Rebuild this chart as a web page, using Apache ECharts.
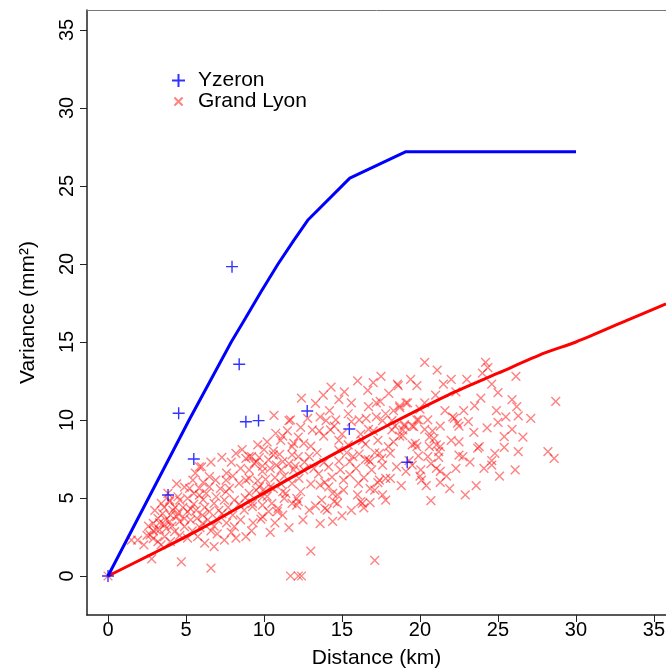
<!DOCTYPE html>
<html>
<head>
<meta charset="utf-8">
<title>Variance vs distance</title>
<script src="https://cdn.jsdelivr.net/npm/echarts@6/dist/echarts.min.js"></script>
<style>
  html, body { margin: 0; padding: 0; background: #fff; }
  #chart { width: 666px; height: 669px; }
</style>
</head>
<body>
<div id="chart"></div>
<script>
// tick labels
const xTicks = [0, 5, 10, 15, 20, 25, 30, 35];
const yTicks = [0, 5, 10, 15, 20, 25, 30, 35];

// Yzeron : points (+) and fitted curve
const yzeronPoints = [
  [0, 0], [3.85, 5.19], [4.53, 10.43], [5.5, 7.5], [7.95, 19.83], [8.41, 13.57],
  [8.84, 9.89], [9.65, 9.96], [12.77, 10.58], [15.47, 9.42], [19.18, 7.29]
];
const yzeronCurve = [
  [0, 0], [2.6, 5], [5.2, 10], [7.9, 15], [8.8, 16.5], [9.8, 18.2], [10.9, 20],
  [11.9, 21.5], [12.8, 22.8], [15.5, 25.5], [19.1, 27.2], [30, 27.2]
];

// Grand Lyon : points (x) and fitted curve
const lyonPoints = [
  [0, 0],
  // low outliers
  [1.5, 2.3], [1.9, 2.3], [2.8, 1.1], [4.7, 0.9], [6.6, 0.5], [11.7, 0], [12.2, 0], [12.4, 0],
  [13.0, 1.6], [17.1, 1.0], [10.4, 2.8], [9.8, 3.65], [13.6, 3.35], [15.0, 3.85], [17.8, 4.87],
  [16.4, 4.36], [20.7, 4.83], [22.9, 5.2],
  // right part
  [20.3, 13.7], [21.1, 13.2], [22.0, 12.6], [23.0, 12.6], [24.2, 13.7], [24.35, 13.35], [24.0, 13.0],
  [26.15, 12.8], [19.8, 12.2], [18.6, 12.2], [22.3, 11.8], [25.0, 11.75], [25.9, 11.3], [26.2, 10.85],
  [26.3, 10.26], [25.5, 10.2], [25.0, 9.85], [23.5, 10.9], [28.7, 11.2], [28.2, 7.97], [28.6, 7.54],
  [26.3, 7.97], [25.4, 8.93], [25.4, 8.25], [24.8, 7.86], [24.6, 7.4], [24.6, 7.1], [23.45, 9.2],
  [23.8, 8.3], [23.7, 8.2], [22.5, 7.75], [22.75, 7.65], [22.5, 8.6], [22.0, 8.7], [22.2, 10.1],
  [22.4, 9.8], [22.5, 9.6], [22.1, 10.2], [21.3, 9.6], [20.5, 10.0], [19.8, 10.0], [20.3, 9.4],
  [19.0, 9.6], [19.5, 9.6], [18.9, 9.0], [20.6, 8.9], [20.9, 8.8], [20.6, 8.3], [21.05, 8.4],
  [21.3, 8.3], [19.5, 8.4], [19.8, 8.3], [21.2, 7.97], [20.5, 7.65], [21.2, 7.6], [20.7, 7.2],
  [21.05, 6.9], [21.3, 6.7], [21.7, 6.4], [21.3, 6.0], [20.05, 6.8], [20.0, 6.4], [20.1, 6.15],
  [20.4, 5.8], [19.1, 6.7], [18.7, 10.9], [19.1, 11.1], [20.3, 11.1],
  [23.1, 9.9], [23.9, 11.4], [24.3, 9.5], [24.9, 10.6], [22.8, 10.6], [23.2, 7.3], [24.1, 6.9],
  [22.3, 6.9], [21.9, 5.6], [23.6, 5.8], [25.9, 9.4], [26.6, 8.9], [27.1, 10.1], [24.6, 12.3],
  [21.5, 12.3], [26.1, 6.8], [25.1, 6.4], [20.8, 9.3], [21.6, 10.6], [21.0, 11.6], [20.0, 10.7],
  // middle part
  [17.5, 12.8], [18.55, 12.3], [15.15, 11.8], [14.8, 11.3], [16.65, 11.9], [17.45, 11.2], [17.2, 11.1],
  [16.7, 10.85], [18.3, 10.6], [18.7, 10.8], [19.2, 11.1], [16.55, 10.1], [17.2, 10.2], [17.6, 9.96],
  [18.2, 9.96], [19.0, 9.7], [19.6, 9.57], [19.9, 10.0], [14.6, 10.0], [14.5, 9.6], [16.7, 9.4],
  [17.0, 9.3], [18.2, 9.36], [18.9, 9.36], [18.7, 8.97], [14.8, 8.7], [17.3, 8.7], [19.7, 8.5],
  [18.3, 8.6], [18.4, 9.6], [17.8, 10.4], [16.2, 9.1], [15.6, 9.9], [15.0, 9.1], [14.2, 10.6],
  [19.4, 12.6], [18.0, 11.7], [16.0, 12.5], [15.6, 11.1], [13.8, 11.6], [12.4, 11.4], [17.0, 12.4],
  [14.3, 12.1], [19.5, 7.1], [19.9, 7.7], [18.8, 5.8], [17.6, 5.2], [16.0, 5.2],
  // centre
  [13.3, 11.07], [10.64, 10.3], [11.7, 10.0], [12.35, 9.53], [11.2, 8.97], [11.07, 8.7], [11.9, 8.5],
  [12.55, 8.5], [13.1, 9.36], [13.55, 9.3], [13.98, 9.96], [14.26, 9.36], [13.83, 8.97], [13.0, 8.33],
  [13.4, 7.9], [12.9, 7.65], [12.2, 7.65], [11.8, 7.76], [11.2, 7.33], [10.6, 7.76], [10.3, 7.44],
  [9.7, 7.58], [9.37, 7.22], [9.05, 7.65], [9.9, 7.05], [10.8, 7.1], [12.0, 7.05], [13.83, 7.26],
  [14.15, 7.0], [14.8, 7.37], [15.5, 7.33], [15.7, 7.65], [16.5, 7.48], [16.1, 7.82], [16.8, 7.33],
  [17.55, 7.54], [17.1, 7.9], [17.97, 8.3], [16.5, 8.46], [18.5, 7.0], [19.3, 7.4], [15.4, 10.4],
  [16.1, 10.0], [16.3, 8.67], [15.4, 8.4], [14.8, 8.07], [15.1, 6.15], [16.06, 5.94], [17.3, 5.98],
  [17.8, 6.26], [17.1, 5.5], [16.3, 4.66], [15.1, 5.5], [14.7, 4.66], [14.05, 4.23], [13.7, 4.87],
  [13.0, 5.9], [13.6, 5.83], [14.15, 5.72], [14.36, 6.33], [13.5, 6.54], [12.55, 6.8], [12.24, 6.26],
  [11.8, 5.94], [12.35, 5.4], [12.2, 4.76], [12.9, 4.23], [11.8, 4.66], [11.2, 5.4], [11.3, 4.98],
  [10.9, 4.34], [10.5, 4.66], [9.9, 5.08], [10.0, 5.56], [10.4, 5.72], [9.5, 5.5], [9.26, 4.66],
  [10.3, 4.12], [9.05, 6.8], [9.05, 6.26], [16.7, 7.44], [17.4, 7.86], [18.1, 7.86], [18.1, 6.26],
  [17.4, 6.15], [16.8, 5.6], [15.5, 6.5], [14.5, 4.76], [13.9, 4.34], [12.1, 4.55], [11.2, 3.9],
  [10.85, 4.12], [9.9, 4.55], [11.4, 5.3], [12.1, 4.98], [14.7, 5.2], [16.2, 4.76], [16.8, 4.7],
  [9.6, 6.1], [10.1, 6.2], [10.7, 6.3], [11.3, 6.4], [11.6, 7.2], [12.6, 7.3], [13.2, 6.9],
  [13.9, 6.0], [14.4, 5.3], [14.9, 6.8], [15.3, 7.9], [15.9, 6.9], [16.4, 6.3], [16.9, 6.8],
  [17.6, 7.1], [13.6, 10.2], [12.8, 10.1], [12.2, 8.9], [11.5, 9.3], [10.2, 8.6], [10.0, 8.1],
  [9.6, 8.4], [10.7, 3.4], [11.6, 3.1], [12.5, 3.6], [13.3, 4.5], [14.4, 3.5], [15.6, 4.2],
  // left part
  [5.86, 7.0], [8.2, 7.86], [8.84, 7.54], [11.6, 9.96], [10.75, 9.15], [10.6, 8.0], [11.0, 7.8],
  [11.8, 8.3], [8.4, 5.94], [6.9, 6.15], [7.57, 5.4], [6.5, 5.72], [5.86, 5.19], [5.1, 4.98],
  [4.6, 4.87], [4.16, 4.23], [3.5, 4.0], [3.2, 3.7], [2.9, 3.38], [2.7, 2.63], [3.3, 2.95],
  [3.74, 3.06], [3.95, 3.48], [4.4, 3.8], [5.1, 4.12], [5.65, 4.23], [6.07, 3.9], [4.9, 3.16],
  [5.75, 2.52], [5.1, 2.42], [6.8, 1.88], [7.46, 2.3], [8.2, 2.42], [8.84, 2.52], [8.1, 3.16],
  [6.8, 4.66], [7.46, 4.87], [7.78, 5.62], [8.1, 4.87], [9.05, 5.3], [9.26, 4.44], [9.9, 3.8],
  [8.73, 4.23], [7.03, 3.6], [6.5, 4.12], [5.23, 5.62], [4.48, 5.08], [3.95, 4.87], [3.42, 4.66],
  [3.84, 5.3], [5.86, 5.62], [6.93, 5.08], [5.44, 6.15], [3.1, 2.95], [3.63, 2.52], [4.27, 2.84],
  [6.07, 3.38], [6.5, 6.37], [8.84, 6.15], [9.7, 5.72], [10.2, 5.1], [10.6, 5.6], [11.1, 5.9],
  [9.5, 7.3], [9.9, 6.7], [10.4, 6.9], [11.1, 6.8], [11.9, 6.8], [2.9, 2.4], [3.2, 2.2], [3.6, 3.3],
  [4.0, 3.9], [4.3, 4.4], [4.8, 4.4], [5.3, 3.6], [5.5, 4.6], [6.2, 4.4], [6.3, 5.3], [7.1, 4.2],
  [7.6, 3.4], [2.6, 3.2], [3.0, 4.2], [4.6, 3.5], [5.9, 3.1], [6.6, 2.9], [7.2, 5.6], [8.0, 6.4],
  [8.5, 6.9], [7.6, 6.6], [5.5, 5.3], [7.57, 6.15], [6.0, 7.0], [9.2, 7.65], [3.95, 4.76],
  [3.3, 3.4], [3.7, 3.6], [4.1, 3.2], [4.5, 4.0], [4.9, 3.7], [5.3, 4.3], [5.7, 3.7], [6.1, 4.9],
  [6.4, 3.6], [6.8, 3.2], [7.3, 4.0], [7.7, 4.4], [8.0, 3.9], [8.4, 4.6], [8.8, 5.0], [9.3, 3.4],
  [8.6, 8.1], [7.9, 7.3], [7.3, 7.6], [6.6, 7.3], [6.1, 6.0], [5.6, 6.6], [4.9, 5.7], [4.4, 5.9],
  [3.6, 4.4], [2.9, 2.9], [2.5, 2.6], [2.3, 2.0], [3.4, 2.0], [4.0, 2.2], [4.6, 2.6], [5.4, 2.9],
  [6.2, 2.1], [7.0, 2.7], [7.9, 2.8], [8.5, 3.6], [9.2, 2.9]
];
const lyonCurve = [
  [0, 0], [3, 1.5], [6, 3.05], [9, 4.75], [12, 6.45], [15, 8.1], [18.6, 10.0], [21.8, 11.6],
  [25, 13.0], [28, 14.3], [30, 15.0], [33.3, 16.4], [35.77, 17.45]
];

const plusPath = 'path://M0,5L10,5M5,0L5,10';
// cross drawn inside a padded box so the legend icon stays small
const crossPath = 'path://M-3,-3L-3,-3M0,0L10,10M10,0L0,10M13,13L13,13';
const font = 'Liberation Sans, Arial, Helvetica, sans-serif';

const chart = echarts.init(document.getElementById('chart'));

const option = {
  animation: false,
  textStyle: { fontFamily: font },
  grid: {
    left: 87, top: 10, right: 0, bottom: 54, show: false,
    containLabel: false, outerBoundsMode: 'none'
  },
  legend: {
    left: 171, top: 70, orient: 'vertical',
    itemWidth: 13, itemHeight: 13, itemGap: 0, padding: 0,
    textStyle: { fontSize: 21, color: '#000', fontFamily: font, lineHeight: 19, padding: [0, 0, 0, 8] },
    data: ['Yzeron', 'Grand Lyon']
  },
  xAxis: [
    {
      type: 'value', min: -1.346, max: 35.77,
      name: 'Distance (km)', nameLocation: 'middle', nameGap: 33,
      nameTextStyle: { fontSize: 21, color: '#000' },
      axisLine: { show: true, onZero: false, lineStyle: { color: '#222', width: 1.5 } },
      axisTick: { show: true, length: 7, customValues: xTicks, lineStyle: { color: '#222' } },
      axisLabel: { customValues: xTicks, fontSize: 20, color: '#000', margin: 5 },
      splitLine: { show: false }
    },
    {
      // top border of the frame
      type: 'value', position: 'top', min: -1.346, max: 35.77,
      axisLine: { show: true, onZero: false, lineStyle: { color: '#777', width: 1 } },
      axisTick: { show: false }, axisLabel: { show: false }, splitLine: { show: false }
    }
  ],
  yAxis: {
    type: 'value', min: -2.5, max: 36.28,
    name: 'Variance (mm²)', nameLocation: 'middle', nameGap: 48,
    nameTextStyle: { fontSize: 21, color: '#000' },
    axisLine: { show: true, onZero: false, lineStyle: { color: '#222', width: 1.5 } },
    axisTick: { show: true, length: 7, customValues: yTicks, lineStyle: { color: '#222' } },
    axisLabel: { customValues: yTicks, fontSize: 20, color: '#000', margin: 10, rotate: 90 },
    splitLine: { show: false }
  },
  series: [
    {
      name: 'Grand Lyon', type: 'scatter', data: lyonPoints,
      symbol: crossPath, symbolSize: 14,
      itemStyle: { color: 'rgba(255,0,0,0)', borderColor: 'rgba(255,0,0,0.62)', borderWidth: 1.4 },
      z: 2
    },
    {
      name: 'Yzeron', type: 'scatter', data: yzeronPoints,
      symbol: plusPath, symbolSize: 12,
      itemStyle: { color: 'rgba(0,0,255,0)', borderColor: '#0000ff', borderWidth: 1.4 },
      z: 4
    },
    {
      name: 'lyonCurve', type: 'line', data: lyonCurve, showSymbol: false, smooth: 0.3,
      lineStyle: { color: '#ff0000', width: 3 }, z: 3
    },
    {
      name: 'yzeronCurve', type: 'line', data: yzeronCurve, showSymbol: false,
      lineStyle: { color: '#0000ff', width: 3 }, z: 3
    }
  ]
};

chart.setOption(option);
</script>
</body>
</html>
